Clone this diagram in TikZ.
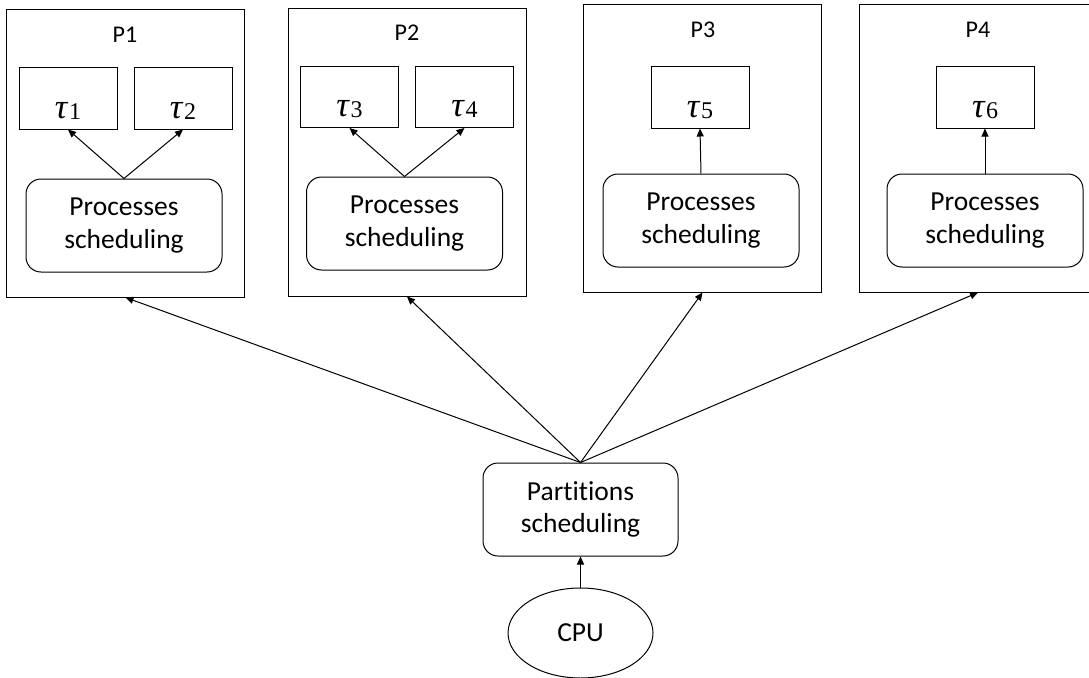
\documentclass[tikz,border=0pt]{standalone}
\usepackage{fontspec}
\setmainfont{Carlito}[Ligatures=NoCommon]
\newfontfamily\taufont{Liberation Serif}
\newcommand{\tsub}[1]{{\taufont\itshape τ}\kern1.5pt\raisebox{-1pt}{\fontsize{24}{24}\selectfont\taufont #1}\hspace{14pt}}
\usetikzlibrary{arrows.meta,shapes.geometric}
\begin{document}
\begin{tikzpicture}[x=1pt,y=-1pt,
  part/.style={draw, line width=1pt, minimum width=238pt, minimum height=287pt, inner sep=0pt},
  task/.style={draw, line width=1pt, minimum width=98pt, minimum height=61pt, inner sep=0pt, text height=39pt, text depth=0pt, font=\fontsize{35}{40}\selectfont},
  sched/.style={draw, line width=1pt, rounded corners=15pt, minimum width=196pt, minimum height=93pt, inner sep=0pt, align=center, font=\fontsize{27.5}{32.5}\selectfont},
  plabel/.style={font=\fontsize{24}{28}\selectfont, inner sep=0pt},
  arr/.style={line width=1pt, -{Triangle[length=8pt,width=7pt]}}
]
\clip (0,0) rectangle (1089,677);
\fill[white] (0,0) rectangle (1089,677);

% partitions
\node[part] (P1) at (125.5,153.5) {};
\node[part] (P2) at (407,152.5) {};
\node[part] (P3) at (702.5,148.5) {};
\node[part] (P4) at (978,148.5) {};

\node[plabel] (l1) at (125,35) {P1};
\node[plabel] (l2) at (407,33) {P2};
\node[plabel] (l3) at (703,30) {P3};
\node[plabel] (l4) at (978,30) {P4};

% tasks
\node[task] (t1) at (68,98.5) {\tsub{1}};
\node[task] (t2) at (183,98.5) {\tsub{2}};
\node[task] (t3) at (349.5,97) {\tsub{3}};
\node[task] (t4) at (464.5,97) {\tsub{4}};
\node[task] (t5) at (700,97.5) {\tsub{5}};
\node[task] (t6) at (985,97.5) {\tsub{6}};

% process schedulers
\node[sched] (s1) at (124,225.5) {Processes\\scheduling};
\node[sched] (s2) at (404.5,223.5) {Processes\\scheduling};
\node[sched] (s3) at (701,220.5) {Processes\\scheduling};
\node[sched] (s4) at (985,220.5) {Processes\\scheduling};

% partition scheduler and CPU
\node[sched, minimum width=195pt] (ps) at (580.5,509.5) {Partitions\\scheduling};
\node[draw, line width=1pt, ellipse, minimum width=145pt, minimum height=90pt, inner sep=0pt, font=\fontsize{27.5}{32.5}\selectfont] (cpu) at (580.5,633) {CPU};

% arrows
\draw[arr] (s1.north) -- (t1.south);
\draw[arr] (s1.north) -- (t2.south);
\draw[arr] (s2.north) -- (t3.south);
\draw[arr] (s2.north) -- (t4.south);
\draw[arr] (s3.north) -- (t5.south);
\draw[arr] (s4.north) -- (t6.south);

\draw[arr] (ps.north) -- (P1.south);
\draw[arr] (ps.north) -- (P2.south);
\draw[arr] (ps.north) -- (P3.south);
\draw[arr] (ps.north) -- (P4.south);

\draw[arr] (cpu.north) -- (ps.south);
\end{tikzpicture}
\end{document}
